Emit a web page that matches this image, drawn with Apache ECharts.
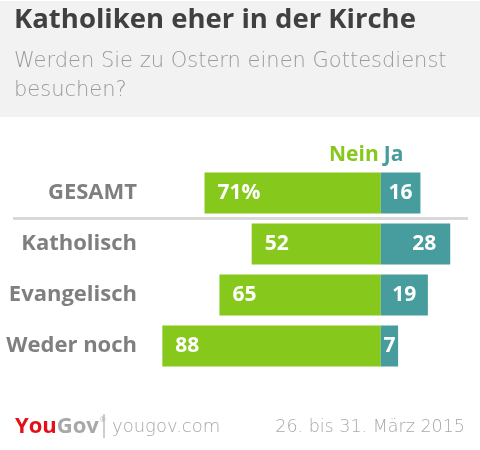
<!DOCTYPE html>
<html><head><meta charset="utf-8">
<script src="https://cdn.jsdelivr.net/npm/echarts@6/dist/echarts.min.js"></script>
<style>html,body{margin:0;padding:0;background:#fff}#c{width:480px;height:450px}</style>
</head><body><div id="c"></div>
<script>
const categories = ['GESAMT', 'Katholisch', 'Evangelisch', 'Weder noch'];
const neinValues = [71, 52, 65, 88];
const jaValues = [16, 28, 19, 7];
const seriesNames = ['Nein', 'Ja'];
const titleText = 'Katholiken eher in der Kirche';
const subtitleText = 'Werden Sie zu Ostern einen Gottesdienst\nbesuchen?';
const dateText = '26. bis 31. März 2015';

const GREEN = '#86c81b';
const TEAL = '#479c9d';
const FONT = '"Open Sans", Lato, sans-serif';
const THIN = '"DejaVu Sans", "Open Sans", sans-serif';

const chart = echarts.init(document.getElementById('c'));

const option = {
  animation: false,
  backgroundColor: '#ffffff',
  title: {
    text: titleText,
    subtext: subtitleText,
    left: 14,
    top: 6,
    padding: 0,
    itemGap: 13,
    textStyle: { fontFamily: FONT, fontWeight: 'bold', fontSize: 27.5, color: '#404040' },
    subtextStyle: { fontFamily: THIN, fontWeight: 200, fontSize: 21, color: '#9a9a9a', lineHeight: 29 }
  },
  grid: { left: 140, right: 0, top: 167.5, height: 204 },
  xAxis: { type: 'value', min: -97, max: 40, show: false },
  yAxis: {
    type: 'category',
    data: categories,
    inverse: true,
    axisLine: { show: false },
    axisTick: { show: false },
    splitLine: { show: false },
    axisLabel: { margin: 3, fontFamily: FONT, fontWeight: 'bold', fontSize: 22, color: '#7f7f7f' }
  },
  series: [
    {
      name: seriesNames[0],
      type: 'bar',
      stack: 'total',
      barWidth: 41,
      data: neinValues.map(v => -v),
      itemStyle: { color: GREEN },
      label: {
        show: true,
        position: 'insideLeft',
        distance: 13,
        fontFamily: FONT, fontWeight: 'bold', fontSize: 21, color: '#fff',
        formatter: p => Math.abs(p.value) + (p.dataIndex === 0 ? '%' : '')
      }
    },
    {
      name: seriesNames[1],
      type: 'bar',
      stack: 'total',
      barWidth: 41,
      data: jaValues.map(v => ({
        value: v,
        label: v > 20 ? { position: 'insideRight', distance: 14 } : { position: 'inside' }
      })),
      itemStyle: { color: TEAL },
      label: {
        show: true,
        fontFamily: FONT, fontWeight: 'bold', fontSize: 21, color: '#fff'
      }
    }
  ]
};
chart.setOption(option);

const cx = chart.convertToPixel({ xAxisIndex: 0 }, 0);

chart.setOption({
  graphic: [
    { type: 'rect', z: -10, shape: { x: 0, y: 1, width: 480, height: 116 }, style: { fill: '#f2f2f2' } },
    { type: 'rect', shape: { x: 13, y: 217, width: 455, height: 3 }, style: { fill: '#d9d9d9' } },
    { type: 'text', x: cx - 2, y: 155, style: { text: seriesNames[0], fill: GREEN, font: 'bold 21px ' + FONT, textAlign: 'right', textVerticalAlign: 'middle' } },
    { type: 'text', x: cx + 3, y: 155, style: { text: seriesNames[1], fill: TEAL, font: 'bold 21px ' + FONT, textAlign: 'left', textVerticalAlign: 'middle' } },
    {
      type: 'text', x: 15, y: 427,
      style: {
        text: '{a|You}{b|Gov}{c|®}',
        textVerticalAlign: 'middle',
        rich: {
          a: { fill: '#e3101a', font: 'bold 22px ' + FONT },
          b: { fill: '#a8a8a8', font: 'bold 22px ' + FONT },
          c: { fill: '#a8a8a8', font: '7px ' + FONT, verticalAlign: 'top', padding: [0, 0, 10, 1] }
        }
      }
    },
    { type: 'line', shape: { x1: 104, y1: 414, x2: 104, y2: 438 }, style: { stroke: '#bdbdbd', lineWidth: 1.5 } },
    { type: 'text', x: 112, y: 427, style: { text: 'yougov.com', fill: '#a8a8a8', font: '200 18px ' + THIN, textVerticalAlign: 'middle' } },
    { type: 'text', x: 465, y: 427, style: { text: dateText, fill: '#a8a8a8', font: '200 17.5px ' + THIN, textAlign: 'right', textVerticalAlign: 'middle' } }
  ]
});
</script>
</body></html>
